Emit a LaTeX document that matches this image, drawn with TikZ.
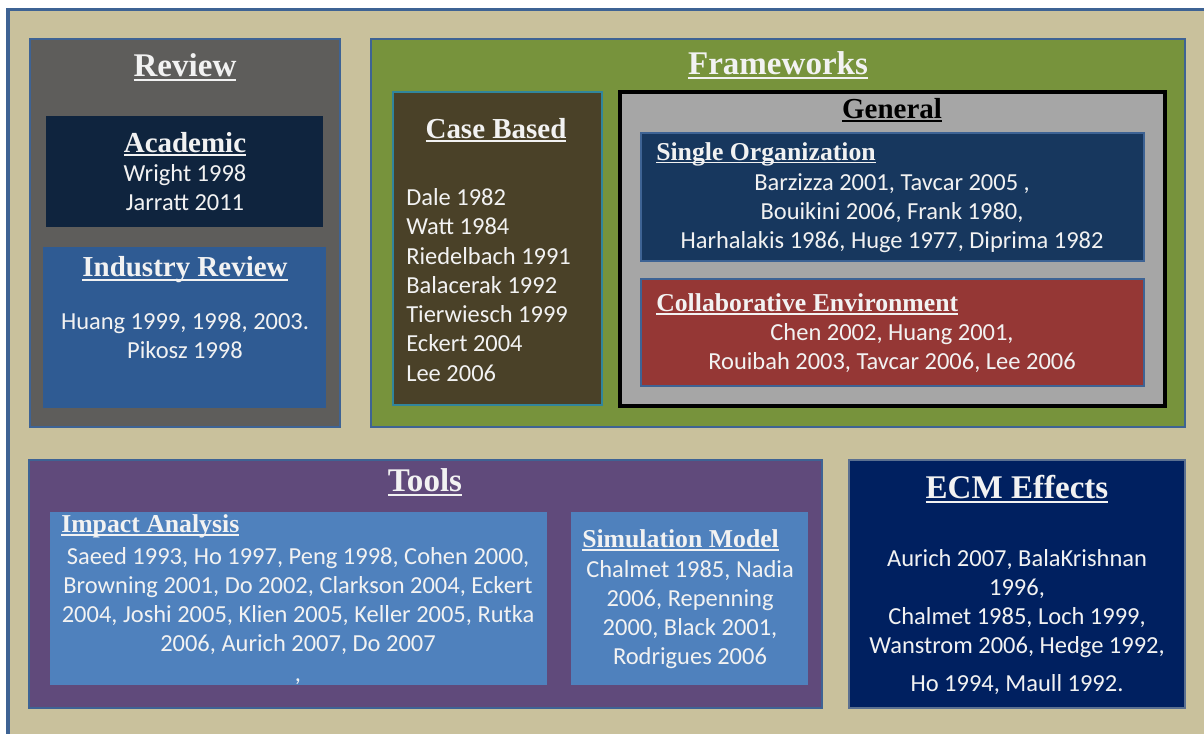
\documentclass[tikz,border=0pt]{standalone}
\usepackage{fontspec}
\setmainfont{Carlito}
\newfontfamily\headfont{Liberation Serif}
\usepackage{tikz}
\usetikzlibrary{positioning}

\definecolor{bgbeige}{HTML}{C9C19C}
\definecolor{frameblue}{HTML}{3E6394}
\definecolor{reviewgray}{HTML}{5E5D5B}
\definecolor{academicnavy}{HTML}{0F243E}
\definecolor{industryblue}{HTML}{2F5B93}
\definecolor{frameolive}{HTML}{77933C}
\definecolor{casebrown}{HTML}{4A4128}
\definecolor{caseteal}{HTML}{31859C}
\definecolor{generalgray}{HTML}{A6A6A6}
\definecolor{singleblue}{HTML}{17375E}
\definecolor{collabred}{HTML}{953735}
\definecolor{toolspurple}{HTML}{604A7B}
\definecolor{impactblue}{HTML}{4F81BD}
\definecolor{ecmnavy}{HTML}{002060}
\definecolor{ecmedge}{HTML}{5B7090}
\definecolor{textwhite}{HTML}{F2F2F2}

\newcommand{\uln}[1]{\leavevmode\setbox0\hbox{#1}\rlap{\rule[-0.13em]{\wd0}{0.06em}}\box0}

\begin{document}
\begin{tikzpicture}[x=0.025cm, y=-0.025cm,
    panel/.style={draw=frameblue, line width=1.3pt},
    bighead/.style={text=textwhite, inner sep=0pt, font=\headfont\bfseries\fontsize{23.5}{27}\selectfont},
    midhead/.style={text=textwhite, inner sep=0pt, font=\headfont\bfseries\fontsize{20.6}{24}\selectfont},
    smallhead/.style={text=textwhite, inner sep=0pt, anchor=west, font=\headfont\bfseries\fontsize{18.3}{22}\selectfont},
    body/.style={text=textwhite, inner sep=0pt, align=center, font=\fontsize{17.4}{20.6}\selectfont}]
    \useasboundingbox (0,0) rectangle (1204,733);
    \clip (0,0) rectangle (1204,733);
    \fill[white] (0,0) rectangle (1204,733);
    \draw[draw=frameblue, line width=2.4pt, fill=bgbeige] (8,9.5) rectangle (1240,760);

    % Review
    \draw[panel, fill=reviewgray] (30,39) rectangle (340,427);
    \fill[academicnavy] (46,116) rectangle (323,227);
    \fill[industryblue] (43,247) rectangle (326,408);
    \node[bighead] (reviewtitle) at (185,67) {\uln{Review}};
    \node[midhead] (academic) at (185,144) {\uln{Academic}};
    \node[body] (academicrefs) at (185,188) {Wright 1998\\Jarratt 2011};
    \node[midhead] (industry) at (185,270) {\uln{Industry Review}};
    \node[body] (industryrefs) at (185,336) {Huang 1999, 1998, 2003.\\Pikosz 1998};

    % Frameworks
    \draw[panel, fill=frameolive] (371,39) rectangle (1185,427);
    \draw[draw=caseteal, line width=1.5pt, fill=casebrown] (393,92) rectangle (602,405);
    \draw[draw=black, line width=2.2pt, fill=generalgray] (620,92) rectangle (1165,406);
    \draw[panel, fill=singleblue] (641,133) rectangle (1144,261);
    \draw[panel, fill=collabred] (641,279) rectangle (1144,386);
    \node[bighead] (frametitle) at (778,65) {\uln{Frameworks}};
    \node[midhead] (casebased) at (496,130) {\uln{Case Based}};
    \node[body, align=left, anchor=west, font=\fontsize{17.4}{20.8}\selectfont] (caserefs) at (406,285)
        {Dale 1982\\Watt 1984\\Riedelbach 1991\\Balacerak 1992\\Tierwiesch 1999\\Eckert 2004\\Lee 2006};
    \node[midhead, text=black] (general) at (892,110) {\uln{General}};
    \node[smallhead] (single) at (656,154) {\uln{Single Organization}};
    \node[body] (singlerefs) at (892,213)
        {Barzizza 2001, Tavcar 2005 ,\\Bouikini 2006, Frank 1980,\\Harhalakis 1986, Huge 1977, Diprima 1982};
    \node[smallhead] (collab) at (656,304) {\uln{Collaborative Environment}};
    \node[body] (collabrefs) at (892,348)
        {Chen 2002, Huang 2001,\\Rouibah 2003, Tavcar 2006, Lee 2006};

    % Tools
    \draw[panel, fill=toolspurple] (29,460) rectangle (822,708);
    \fill[impactblue] (50,512) rectangle (547,685);
    \fill[impactblue] (571,512) rectangle (808,685);
    \node[bighead] (toolstitle) at (425,482) {\uln{Tools}};
    \node[smallhead] (impact) at (61,526) {\uln{Impact Analysis}};
    \node[body] (impactrefs) at (298,616)
        {Saeed 1993, Ho 1997, Peng 1998, Cohen 2000,\\Browning 2001, Do 2002, Clarkson 2004, Eckert\\
         2004, Joshi 2005, Klien 2005, Keller 2005, Rutka\\2006, Aurich 2007, Do 2007\\[1pt],};
    \node[smallhead] (simulation) at (582,540) {\uln{Simulation Model}};
    \node[body] (simrefs) at (690,615)
        {Chalmet 1985, Nadia\\2006, Repenning\\2000, Black 2001,\\Rodrigues 2006};

    % ECM effects
    \draw[draw=ecmedge, line width=1.3pt, fill=ecmnavy] (849,460) rectangle (1185,708);
    \node[bighead] (ecmtitle) at (1017,489) {\uln{ECM Effects}};
    \node[body] (ecmrefs) at (1017,622)
        {Aurich 2007, BalaKrishnan\\1996,\\Chalmet 1985, Loch 1999,\\Wanstrom 2006, Hedge 1992,\\[6pt]Ho 1994, Maull 1992.};
\end{tikzpicture}
\end{document}
